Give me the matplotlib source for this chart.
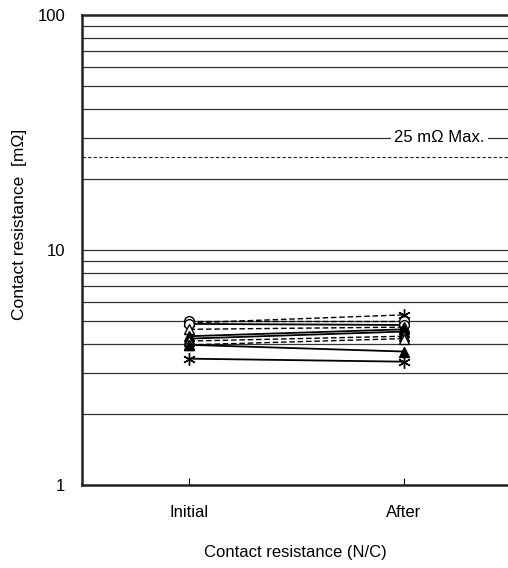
import matplotlib
matplotlib.use("Agg")
import matplotlib.pyplot as plt
import numpy as np

plt.rcParams['font.family'] = ['Liberation Sans', 'DejaVu Sans']

stages = ["Initial", "After"]
limit_value = 25
limit_label = "25 m\u03a9 Max."

# contact resistance per sample [mOhm], initial -> after
series_initial = [4.9, 5.0, 4.85, 4.6, 4.3, 4.2, 4.1, 3.95, 3.95, 3.45]
series_after = [5.3, 5.0, 4.8, 4.7, 4.6, 4.5, 4.3, 4.2, 3.7, 3.35]
series_marker = ["ast", "o", "o", "^", "^", "^", "^", "^", "^", "ast"]
series_filled = [True, False, False, False, True, True, False, False, True, True]
series_dashed = [True, True, False, True, False, False, True, True, False, False]

fig = plt.figure(figsize=(5.08, 5.68), dpi=100)
ax = fig.add_axes([0.1614, 0.146, 0.8386, 0.8275])
ax.set_yscale("log")
ax.set_ylim(1, 100)
ax.set_xlim(-0.5, 1.484)

# horizontal grid at every 1-2-...-9 step
for dec in (1, 10):
    for k in range(2, 10):
        ax.axhline(dec * k, color="#333333", lw=0.9, zorder=1)
ax.axhline(10, color="#333333", lw=0.9, zorder=1)
ax.axhline(limit_value, color="#222222", lw=0.8, ls=(0, (3, 2)), zorder=1)
ax.text(1.165, 30, limit_label, ha="center", va="center", fontsize=12,
        bbox=dict(facecolor="white", edgecolor="none", pad=2), zorder=2)

x = np.arange(len(stages))
for yi, ya, m, filled, dashed in zip(series_initial, series_after, series_marker,
                                     series_filled, series_dashed):
    mk = (6, 2, 0) if m == "ast" else m
    ax.plot(x, [yi, ya], color="black", lw=1.3 if not dashed else 1.0,
            ls=(0, (4, 2)) if dashed else "-",
            marker=mk, ms=7 if m != "ast" else 9,
            mfc="black" if filled else "white", mec="black", mew=1.0, zorder=3)

ax.set_xticks(x)
ax.set_xticklabels(stages, fontsize=12)
ax.tick_params(axis="x", direction="in", length=5, width=0.8, pad=14)
ax.set_yticks([1, 10, 100])
ax.set_yticklabels(["1", "10", "100"], fontsize=12)
ax.yaxis.set_minor_locator(matplotlib.ticker.NullLocator())
ax.tick_params(axis="y", length=0, pad=12)

for side in ("left", "bottom", "top"):
    ax.spines[side].set_linewidth(1.8)
    ax.spines[side].set_color("#222222")
ax.spines["right"].set_visible(False)

ax.set_ylabel("Contact resistance  [m\u03a9]", fontsize=12.5)
ax.yaxis.set_label_coords(-0.128, 0.555)
ax.set_xlabel("Contact resistance (N/C)", fontsize=12, labelpad=18)

fig.savefig("out.png", dpi=100)
